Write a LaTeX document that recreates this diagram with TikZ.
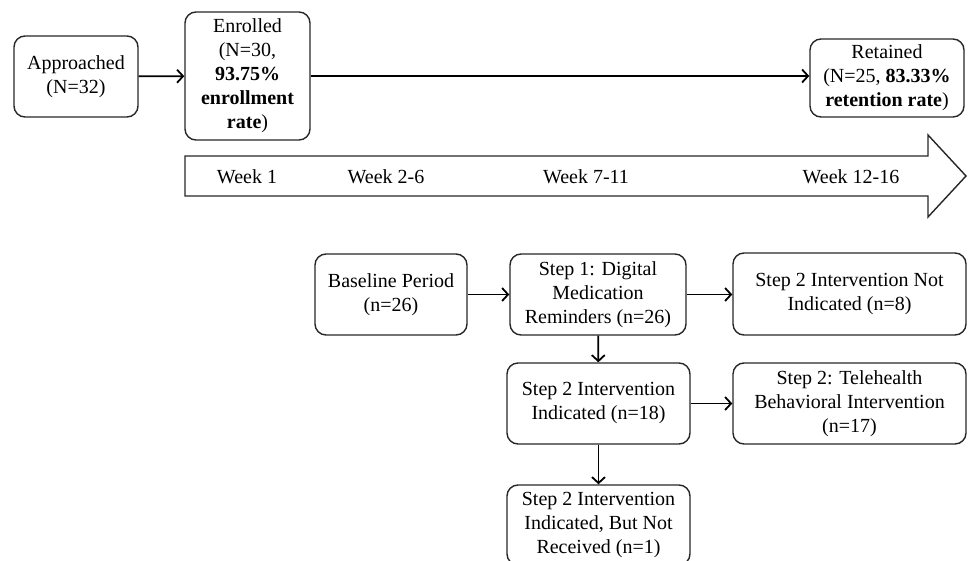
\documentclass[tikz,border=0pt]{standalone}
\usepackage{fontspec}
\setmainfont{Liberation Serif}
\usetikzlibrary{arrows.meta}

\begin{document}
\begin{tikzpicture}[
x=0.5pt, y=-0.5pt,
box/.style={
  draw=black!85,
  rounded corners=5.5pt,
  line width=0.7pt,
  align=center,
  inner sep=2pt,
  font=\fontsize{10}{12}\selectfont
  },
week/.style={
  font=\fontsize{10}{12}\selectfont
  },
>={Straight Barb[length=3pt,width=6.5pt]},
line width=0.9pt
]
\useasboundingbox (0,0) rectangle (968,561);

% top row: recruitment
\node[box, minimum width=62pt, minimum height=40.5pt] (appr) at (76,76.5) {Approached\\(N=32)};
\node[box, minimum width=62.5pt, minimum height=64pt] (enrol) at (247.5,76) {Enrolled\\(N=30,\\\textbf{93.75\%}\\\textbf{enrollment}\\\textbf{rate})};
\node[box, minimum width=77pt, minimum height=39pt] (retain) at (887,78) {Retained\\(N=25, \textbf{83.33\%}\\\textbf{retention rate})};
\draw[->] (appr) -- (enrol);
\draw[->] (enrol.east) -- (enrol.east -| retain.west);

% timeline
\draw[draw=black!85, line width=0.7pt] (185,156) -- (928,156) -- (928,135) -- (966,176)
  -- (928,217) -- (928,196) -- (185,196) -- cycle;
\node[week] (w1) at (247,177) {Week 1};
\node[week] (w2) at (386,177) {Week 2-6};
\node[week] (w3) at (586,177) {Week 7-11};
\node[week] (w4) at (851,177) {Week 12-16};

% steps
\node[box, minimum width=76pt, minimum height=40.5pt] (base) at (391,294.5) {Baseline Period\\(n=26)};
\node[box, minimum width=88pt, minimum height=40.5pt] (step1) at (598,294.5) {Step 1: Digital\\Medication\\Reminders (n=26)};
\node[box, minimum width=116.5pt, minimum height=41pt] (notind) at (849.5,294) {Step 2 Intervention Not\\Indicated (n=8)};
\node[box, minimum width=91.5pt, minimum height=40.5pt] (ind) at (598.5,403.5) {Step 2 Intervention\\Indicated (n=18)};
\node[box, minimum width=116.5pt, minimum height=40.5pt] (tele) at (849.5,403.5) {Step 2: Telehealth\\Behavioral Intervention\\(n=17)};
\node[box, minimum width=91.5pt, minimum height=40pt] (notrec) at (598.5,525) {Step 2 Intervention\\Indicated, But Not\\Received (n=1)};

\draw[->] (base) -- (step1);
\draw[->] (step1.east) -- (step1.east -| notind.west);
\draw[->] (step1) -- (ind);
\draw[->] (ind) -- (tele);
\draw[->] (ind) -- (notrec);
\end{tikzpicture}
\end{document}
